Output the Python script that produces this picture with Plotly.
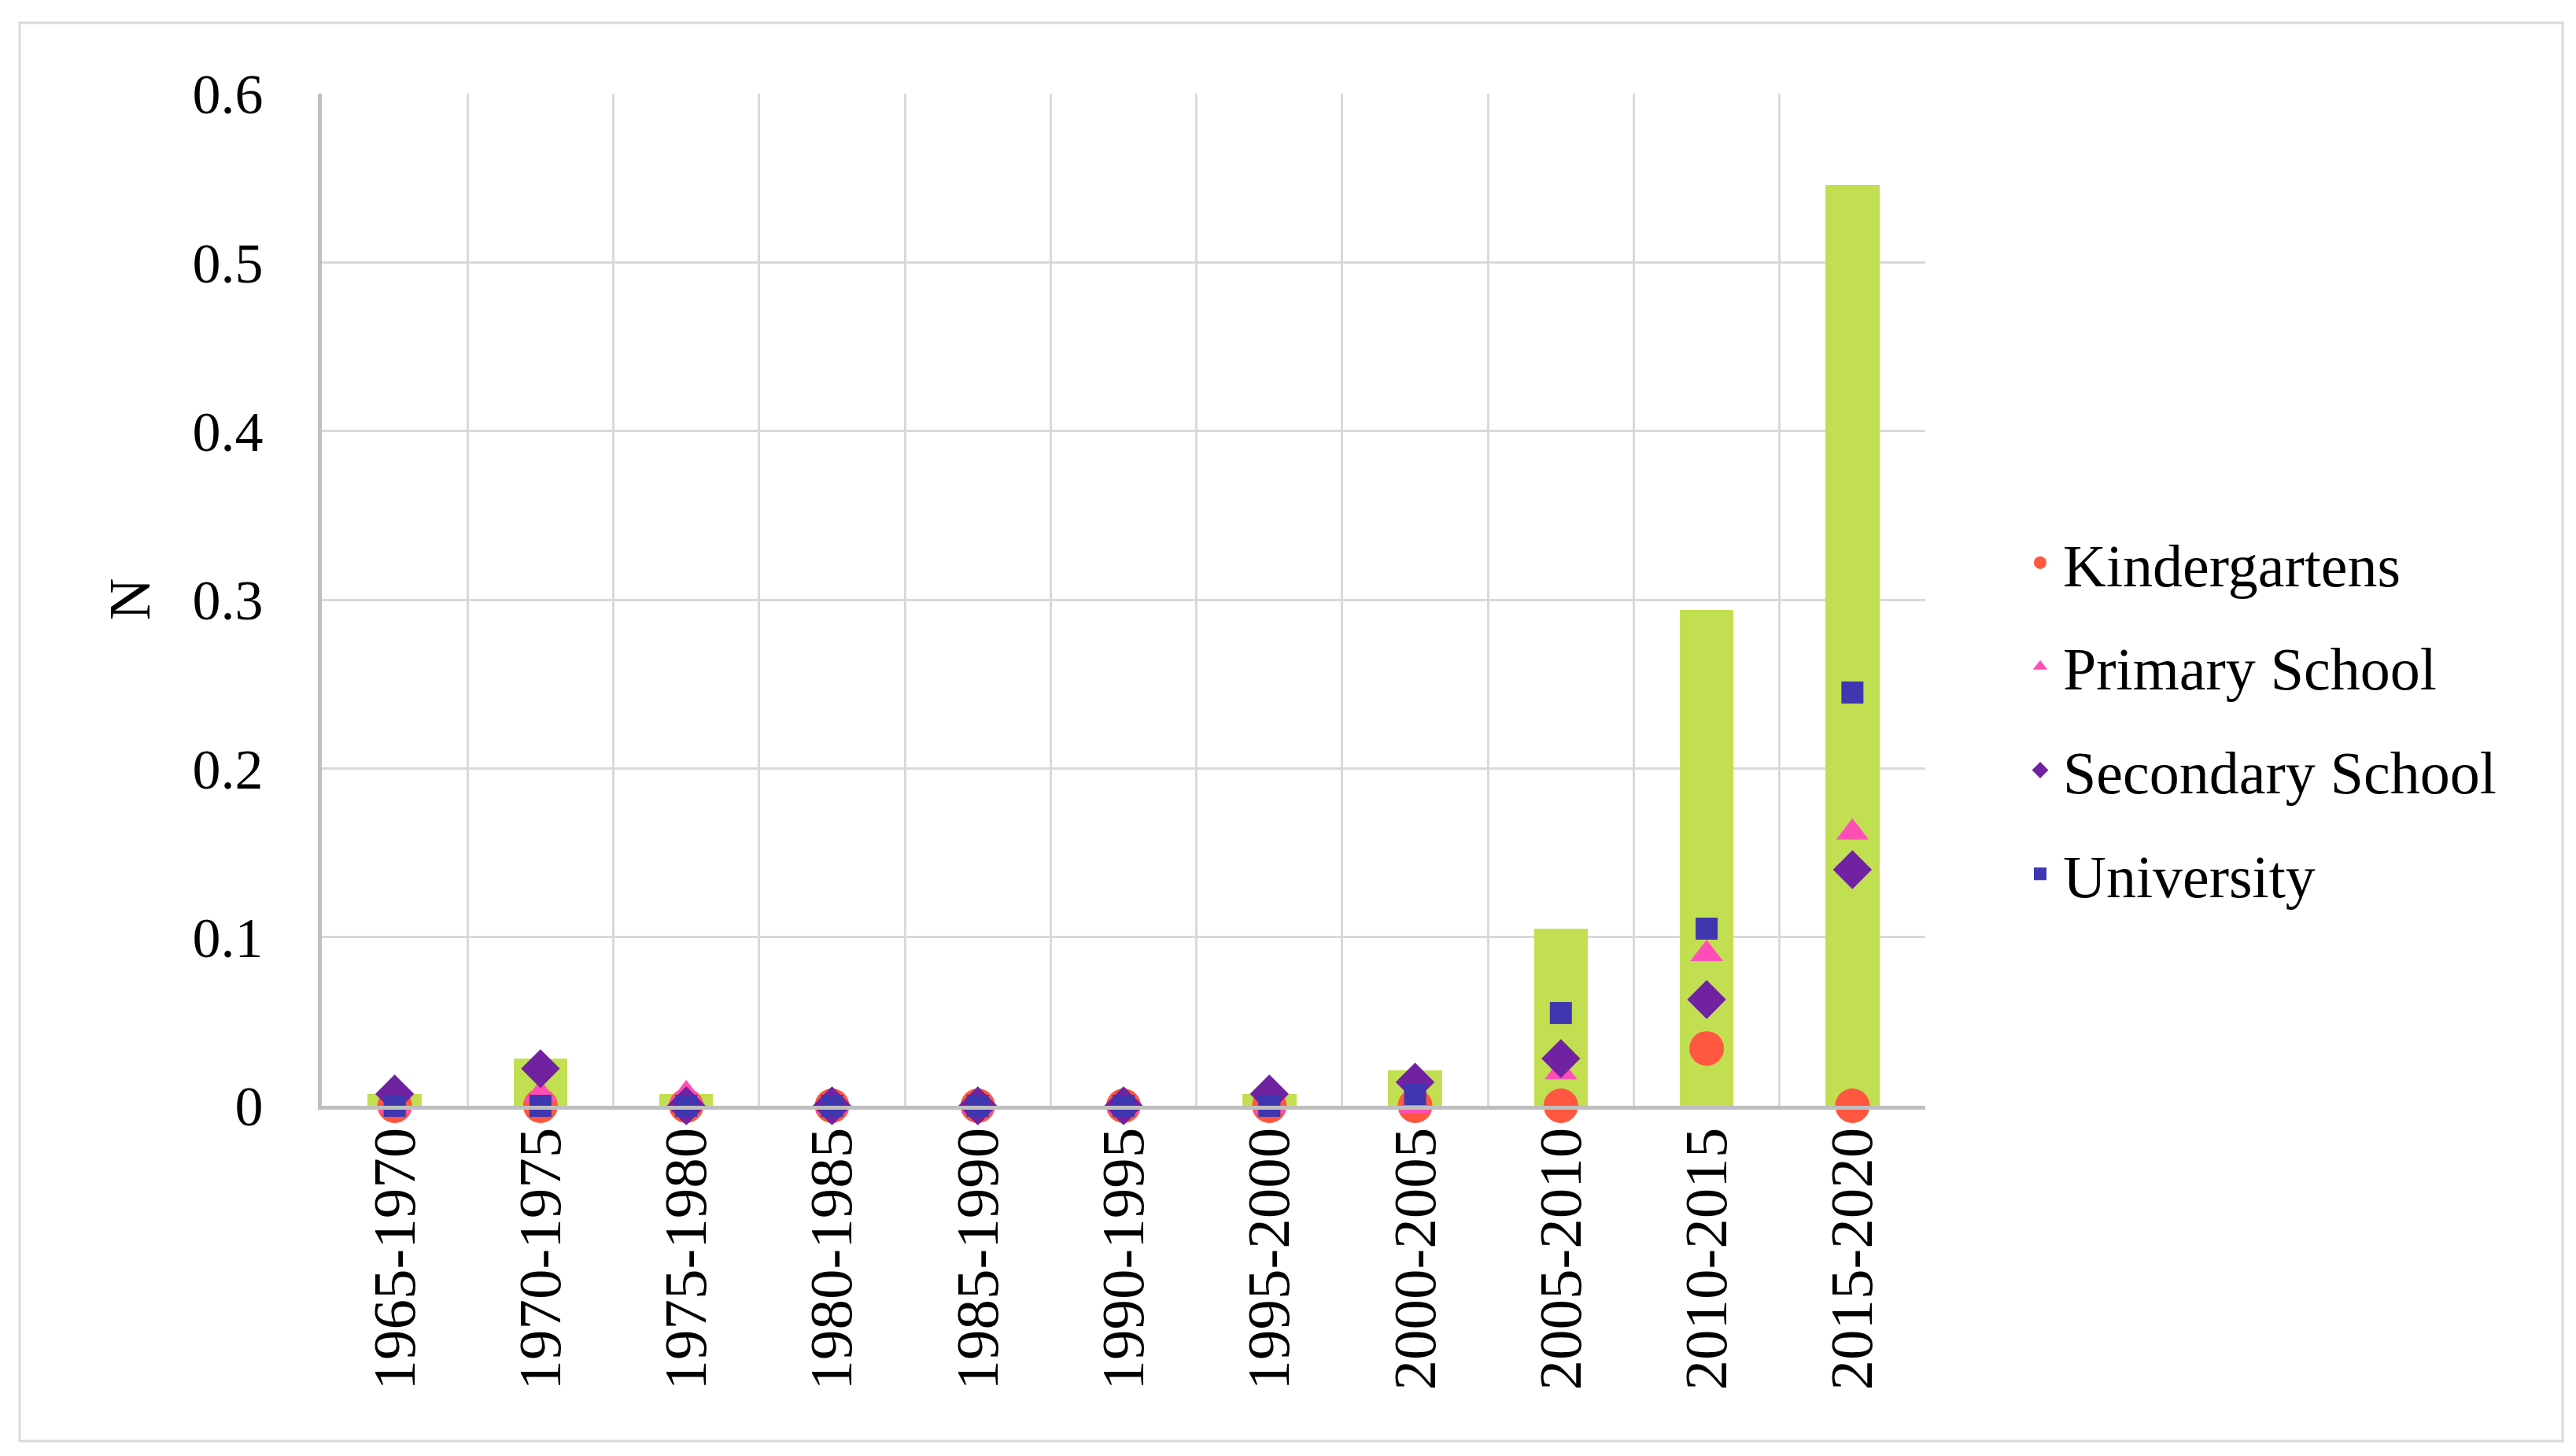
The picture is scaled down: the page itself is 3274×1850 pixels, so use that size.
import plotly.graph_objects as go

periods = ["1965-1970", "1970-1975", "1975-1980", "1980-1985", "1985-1990", "1990-1995",
           "1995-2000", "2000-2005", "2005-2010", "2010-2015", "2015-2020"]

total = [0.007, 0.028, 0.007, 0, 0, 0, 0.007, 0.021, 0.105, 0.294, 0.546]
kindergartens = [0, 0, 0, 0, 0, 0, 0, 0, 0, 0.034, 0]
primary_school = [0, 0.007, 0.007, 0, 0, 0, 0, 0, 0.020, 0.090, 0.162]
secondary_school = [0.007, 0.022, 0, 0, 0, 0, 0.007, 0.014, 0.028, 0.063, 0.140]
university = [0, 0, 0, 0, 0, 0, 0, 0.007, 0.055, 0.105, 0.245]

y_ticks = [0, 0.1, 0.2, 0.3, 0.4, 0.5, 0.6]

FONT = "Liberation Serif, Times New Roman, serif"
GRID = "#D9D9D9"

W, H = 3274, 1850
L, R, T, B = 401, 2439, 111, 1397   # plot area in pixels


def px_x(p):
    return (p - L) / (R - L)


def px_y(p):
    return (B - p) / (B - T)


fig = go.Figure()

fig.add_trace(go.Bar(
    x=periods, y=total, width=0.37,
    marker=dict(color="#C2DF52", line=dict(width=0)),
    showlegend=False, hoverinfo="skip"))

series = [
    ("Kindergartens", kindergartens, "circle", "#FF5740", 44),
    ("Primary School", primary_school, "triangle-up", "#FF4FB6", 36),
    ("Secondary School", secondary_school, "diamond", "#7022A0", 38),
    ("University", university, "square", "#3F36B0", 28),
]
for name, vals, sym, col, size in series:
    fig.add_trace(go.Scatter(
        x=periods, y=vals, name=name, mode="markers", cliponaxis=False,
        legendgroup=name,
        marker=dict(symbol=sym, color=col, size=size, line=dict(width=0))))

fig.update_layout(
    width=W, height=H,
    margin=dict(l=L, r=W - R, t=T, b=H - B),
    paper_bgcolor="white", plot_bgcolor="white",
    font=dict(family=FONT, size=70, color="black"),
    bargap=0,
    showlegend=True,
    legend=dict(x=px_x(2556), y=px_y(651), xanchor="left", yanchor="top",
                font=dict(size=76), traceorder="grouped", tracegroupgap=30,
                itemwidth=48, bgcolor="rgba(0,0,0,0)"),
    annotations=[dict(text="N", x=px_x(157), y=0.5, xref="paper", yref="paper",
                      xanchor="center", yanchor="middle",
                      showarrow=False, textangle=-90, font=dict(size=74))],
    shapes=[dict(type="rect", xref="paper", yref="paper",
                 x0=px_x(17), x1=px_x(3249), y0=px_y(1823), y1=px_y(21),
                 line=dict(color=GRID, width=3), layer="below")],
)

fig.update_xaxes(
    type="category", range=[-0.5, len(periods) - 0.5],
    tickson="boundaries", tickangle=-90,
    showgrid=True, gridcolor=GRID, gridwidth=3,
    showline=True, linecolor="#BFBFBF", linewidth=5, mirror=False,
    ticks="", tickfont=dict(size=77), ticklabelstandoff=-8)

fig.update_yaxes(
    range=[0, 0.6], tickvals=y_ticks, ticktext=[f"{v:g}" for v in y_ticks],
    showgrid=True, gridcolor=GRID, gridwidth=3, zeroline=False,
    showline=True, linecolor="#BFBFBF", linewidth=5,
    ticks="", tickfont=dict(size=72), ticklabelstandoff=55)

fig.write_html("out.html")
